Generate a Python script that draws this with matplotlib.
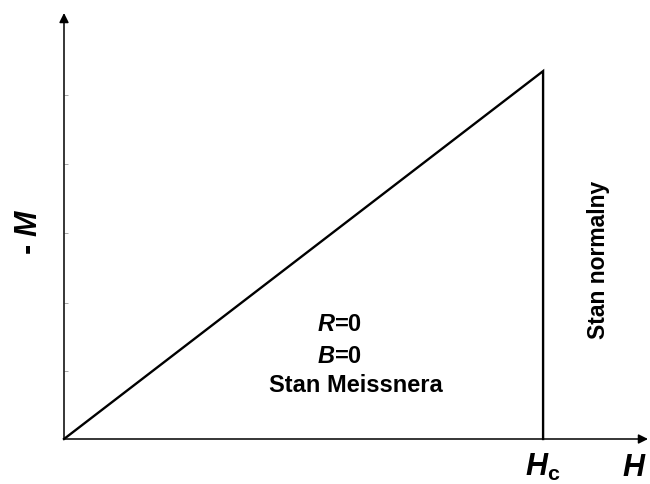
import matplotlib
matplotlib.use("Agg")
import matplotlib.pyplot as plt

plt.rcParams['font.family'] = 'Liberation Sans'
plt.rcParams['font.weight'] = 'bold'
plt.rcParams['mathtext.fontset'] = 'custom'
plt.rcParams['mathtext.rm'] = 'Liberation Sans:bold'
plt.rcParams['mathtext.it'] = 'Liberation Sans:italic:bold'
plt.rcParams['mathtext.bf'] = 'Liberation Sans:bold'

# magnetisation curve of a type I superconductor: -M grows linearly up to Hc
h_vals = [0.0, 1.0, 1.0]
m_vals = [0.0, 1.0, 0.0]
y_ticks = [0.185, 0.37, 0.56, 0.747, 0.935]

x_max = 1.219
y_max = 1.158

fig = plt.figure(figsize=(6.5, 4.85), dpi=100)
ax = fig.add_axes([64 / 650, 45 / 485, 584 / 650, 426 / 485])
ax.set_xlim(0, x_max)
ax.set_ylim(0, y_max)

ax.plot(h_vals, m_vals, color='black', lw=1.7, solid_joinstyle='miter', clip_on=False)

for s in ax.spines.values():
    s.set_visible(False)

# axes with arrow heads
arrow = dict(arrowstyle='-|>', color='black', lw=1.1, mutation_scale=14,
             shrinkA=0, shrinkB=0)
ax.annotate('', xy=(x_max, 0), xytext=(0, 0), arrowprops=arrow, annotation_clip=False)
ax.annotate('', xy=(0, y_max), xytext=(0, 0), arrowprops=arrow, annotation_clip=False)

ax.set_xticks([])
ax.set_yticks(y_ticks)
ax.set_yticklabels([])
ax.tick_params(axis='y', direction='in', length=3, width=0.6, color='0.6')

ax.text(0.576, 0.315, r'$\mathit{R}$=0', ha='center', va='center', fontsize=17)
ax.text(0.574, 0.228, r'$\mathit{B}$=0', ha='center', va='center', fontsize=17)
ax.text(0.609, 0.147, 'Stan Meissnera', ha='center', va='center', fontsize=17)
ax.text(1.115, 0.489, 'Stan normalny', ha='center', va='center', fontsize=16.5,
        rotation=90)

ax.text(1.0, -0.075, r'$\mathit{H}_\mathrm{c}$', ha='center', va='center',
        fontsize=22, clip_on=False)
ax.text(1.19, -0.075, r'$\mathit{H}$', ha='center', va='center',
        fontsize=22, clip_on=False)
ax.text(-0.074, 0.565, r'- $\mathit{M}$', ha='center', va='center',
        fontsize=22, rotation=90, clip_on=False)

fig.savefig('out.png', dpi=100)
